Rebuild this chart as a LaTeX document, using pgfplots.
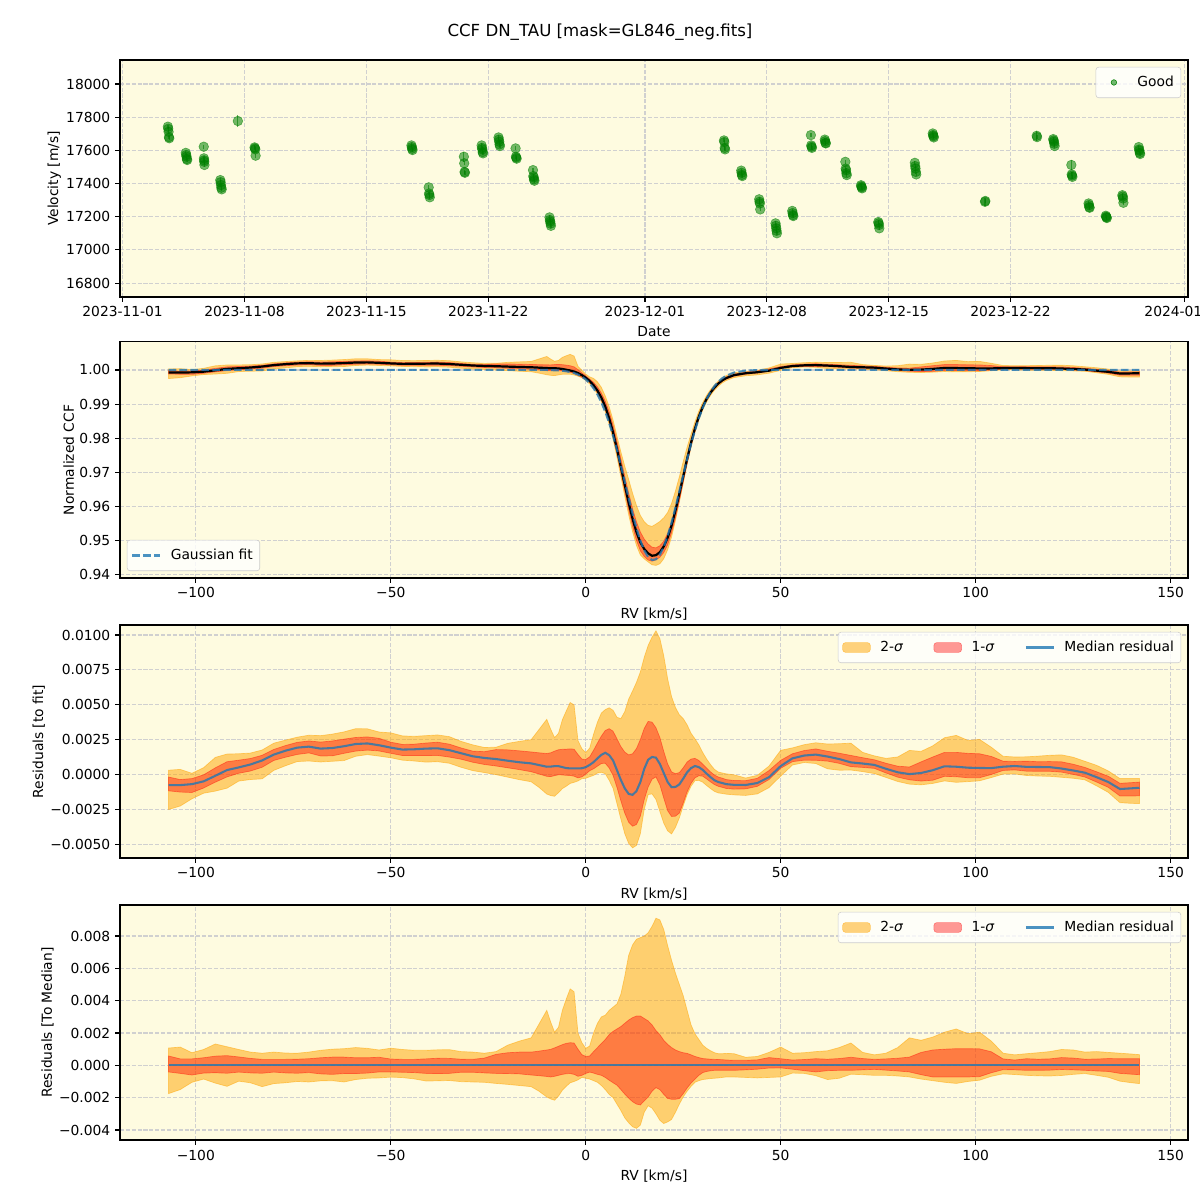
\documentclass[border=0pt]{standalone}
\usepackage{fontspec}
\setmainfont{DejaVu Sans}
\usepackage{pgfplots}
\usepackage{pgfplotstable}
\pgfplotsset{compat=1.18}

\definecolor{bgy}{HTML}{FEFBE0}
\definecolor{mgreen}{HTML}{008000}
\definecolor{morange}{HTML}{FFA500}
\definecolor{mblue}{HTML}{1F77B4}
\definecolor{gridc}{HTML}{D0D0D0}
\definecolor{legc}{HTML}{CCCCCC}

\pgfplotsset{
  panel/.style={
    scale only axis, width=10.68in, anchor=south west,
    axis background/.style={fill=bgy},
    grid=major,
    major grid style={draw=gridc, line width=0.8pt, dash pattern=on 2.96pt off 1.28pt},
    axis line style={line width=0.8pt},
    every tick/.style={black, line width=0.8pt},
    tick align=outside, major tick length=3.5pt,
    xtick pos=left, ytick pos=left,
    tick label style={font=\fontsize{10}{12}\selectfont},
    label style={font=\fontsize{10}{12}\selectfont},
    ylabel style={yshift=-3pt},
    scaled ticks=false,
    legend style={font=\fontsize{10}{12}\selectfont, draw=legc, fill=white,
      fill opacity=0.8, text opacity=1, rounded corners=2pt,
      inner xsep=3pt, inner ysep=4.5pt,
      /tikz/every odd column/.append style={column sep=5pt}},
    legend cell align=left,
  },
  rvpanel/.style={panel, xmin=-119.45, xmax=154.45,
    xtick={-100,-50,0,50,100,150},
    xticklabels={−100,−50,0,50,100,150},
    xlabel={RV [km/s]}},
  sqleg/.style={legend image code/.code={\draw[##1] (0pt,-3.5pt) rectangle (20pt,3.5pt);}},
  lnleg/.style={legend image code/.code={\draw[##1] (0pt,0pt) -- (20pt,0pt);}},
  dotleg/.style={legend image code/.code={\path[draw=none, fill=none] (0pt,-3.5pt) rectangle (20pt,3.5pt);
    \fill[mgreen, fill opacity=0.55] (10pt,0pt) circle (2pt);}},
  toprightleg/.style={legend columns=3,
    legend style={at={(1,1)}, anchor=north east, xshift=-5pt, yshift=-5pt,
      /tikz/every even column/.append style={column sep=20pt}}},
  band2/.style={stack plots=y, forget plot, fill=morange, fill opacity=0.5,
    draw=morange, draw opacity=0.5, line width=0.5pt},
  band1/.style={stack plots=y, forget plot, fill=red, fill opacity=0.4,
    draw=red, draw opacity=0.4, line width=0.5pt},
  hidden/.style={stack plots=y, forget plot, draw=none},
}

% velocities: days since 2023-11-01, m/s, error
\pgfplotstableread{
d v e
2.60 17743 12
2.62 17730 12
2.64 17712 12
2.66 17680 12
2.68 17673 12
3.63 17585 12
3.65 17572 12
3.67 17562 12
3.69 17548 12
3.71 17542 12
4.66 17622 12
4.67 17552 12
4.68 17540 12
4.69 17531 12
4.70 17512 12
5.61 17421 12
5.63 17408 12
5.65 17391 12
5.67 17375 12
5.69 17365 12
6.62 17777 35
7.58 17618 12
7.60 17612 12
7.62 17606 12
7.64 17568 12
16.59 17630 12
16.61 17620 12
16.63 17610 12
16.65 17602 12
17.58 17377 12
17.60 17340 12
17.62 17331 12
17.64 17317 12
19.60 17562 30
19.62 17522 12
19.64 17470 12
19.66 17465 12
20.62 17630 12
20.64 17615 12
20.66 17606 12
20.68 17590 12
20.70 17582 12
21.59 17678 12
21.61 17665 12
21.63 17652 12
21.65 17636 12
21.67 17626 12
22.57 17612 12
22.59 17562 12
22.61 17556 12
22.63 17550 12
23.57 17481 12
23.59 17445 12
23.61 17437 12
23.63 17425 12
23.65 17417 12
24.52 17196 12
24.54 17180 12
24.56 17170 12
24.58 17158 12
24.60 17145 12
34.54 17660 12
34.56 17650 12
34.58 17615 12
34.60 17606 12
35.53 17478 12
35.55 17465 12
35.57 17452 12
35.59 17445 12
36.56 17305 12
36.58 17290 12
36.60 17280 12
36.62 17244 12
37.50 17160 12
37.52 17145 12
37.54 17130 12
37.56 17115 12
37.58 17100 12
38.46 17235 12
38.48 17222 12
38.50 17210 12
38.52 17204 12
39.53 17692 12
39.55 17630 12
39.57 17622 12
39.59 17615 12
40.33 17665 12
40.35 17655 12
40.37 17645 12
40.39 17642 12
41.51 17531 12
41.53 17490 12
41.55 17480 12
41.57 17462 12
41.59 17451 12
42.41 17390 12
42.43 17383 12
42.45 17377 12
42.47 17371 12
43.40 17168 12
43.42 17160 12
43.44 17150 12
43.46 17130 12
45.50 17525 12
45.52 17505 12
45.54 17491 12
45.56 17470 12
45.58 17455 12
46.53 17702 12
46.55 17692 12
46.57 17685 12
46.59 17678 12
49.53 17290 25
49.55 17295 12
52.50 17688 30
52.52 17680 12
53.45 17668 12
53.47 17660 12
53.49 17652 12
53.51 17640 12
53.53 17626 12
54.49 17512 30
54.51 17455 12
54.53 17448 20
54.55 17440 12
55.48 17280 12
55.50 17270 12
55.52 17258 12
55.54 17254 12
56.47 17206 12
56.49 17200 12
56.51 17196 12
56.53 17192 12
57.42 17330 12
57.44 17322 12
57.46 17310 12
57.48 17284 12
58.36 17620 12
58.38 17605 12
58.40 17598 12
58.42 17585 12
58.44 17578 12
}\rvtab

% CCF: rv, gaussian fit, median residual to fit (1e-3),
% 2/1-sigma percentiles relative to the median (1e-3)
\pgfplotstableread{
rv fit med lo2 lo1 hi1 hi2
-107 1.00000 -0.77 -1.75 -0.41 0.58 1.07
-104 1.00000 -0.77 -1.50 -0.50 0.40 1.13
-101 1.00000 -0.70 -1.05 -0.60 0.40 0.78
-98 1.00000 -0.50 -0.85 -0.48 0.47 0.98
-95 1.00000 -0.10 -1.10 -0.46 0.57 1.32
-92 1.00000 0.31 -1.30 -0.49 0.60 1.15
-89 1.00000 0.50 -0.98 -0.42 0.52 0.98
-86 1.00000 0.71 -1.08 -0.47 0.43 0.82
-83 1.00000 1.00 -1.32 -0.49 0.37 0.75
-80 1.00000 1.42 -1.13 -0.42 0.37 0.82
-77 1.00000 1.70 -1.08 -0.47 0.37 0.76
-74 1.00000 1.92 -1.00 -0.49 0.38 0.75
-71 1.00000 1.99 -1.03 -0.45 0.41 0.82
-68 1.00000 1.85 -0.96 -0.53 0.47 0.93
-65 1.00000 1.89 -0.95 -0.56 0.51 1.00
-62 1.00000 2.02 -1.03 -0.51 0.51 1.03
-59 1.00000 2.18 -0.88 -0.51 0.47 1.10
-56 1.00000 2.22 -0.80 -0.48 0.47 1.05
-53 1.00000 2.09 -0.78 -0.41 0.50 0.95
-50 1.00000 1.92 -0.73 -0.41 0.39 1.06
-47 1.00000 1.78 -0.76 -0.43 0.37 0.98
-44 1.00000 1.80 -0.84 -0.45 0.37 0.93
-41 1.00000 1.85 -0.97 -0.50 0.40 0.93
-38 1.00000 1.87 -0.96 -0.51 0.44 0.96
-35 1.00000 1.74 -0.94 -0.50 0.43 0.97
-32 1.00000 1.52 -1.01 -0.43 0.38 0.85
-29 1.00000 1.30 -1.03 -0.43 0.37 0.82
-26 1.00000 1.18 -1.05 -0.47 0.45 0.75
-23 1.00000 1.10 -1.12 -0.50 0.68 0.85
-20 1.00000 0.98 -1.18 -0.51 0.78 1.25
-17 1.00000 0.87 -1.25 -0.53 0.82 1.50
-14 1.00000 0.79 -1.32 -0.60 0.82 1.70
-12 1.00000 0.67 -1.60 -0.64 0.88 2.55
-10 1.00000 0.55 -1.96 -0.69 0.95 3.40
-9 0.99994 0.56 -2.08 -0.72 0.99 2.68
-8 0.99991 0.59 -2.16 -0.68 1.08 2.05
-7 0.99985 0.59 -1.90 -0.62 1.18 2.35
-6 0.99976 0.52 -1.54 -0.56 1.28 3.40
-5 0.99961 0.45 -1.30 -0.52 1.36 4.10
-4 0.99941 0.43 -1.08 -0.51 1.40 4.73
-3 0.99910 0.43 -1.00 -0.56 1.38 4.55
-2 0.99866 0.43 -0.90 -0.68 1.00 2.00
-1 0.99804 0.44 -0.75 -0.62 0.66 1.40
0 0.99721 0.52 -0.80 -0.50 0.55 1.05
1 0.99609 0.68 -0.85 -0.42 0.58 1.20
2 0.99464 0.88 -0.95 -0.48 0.85 2.00
3 0.99279 1.15 -1.05 -0.56 1.10 2.60
4 0.99050 1.40 -1.25 -0.62 1.35 3.00
5 0.98773 1.55 -1.50 -0.75 1.60 3.10
6 0.98447 1.38 -1.80 -0.92 1.90 3.40
7 0.98072 1.00 -2.00 -1.08 2.10 3.60
8 0.97654 0.30 -2.40 -1.23 2.25 3.80
9 0.97203 -0.40 -2.80 -1.50 2.40 4.40
10 0.96731 -1.00 -3.25 -1.78 2.60 5.50
11 0.96255 -1.40 -3.55 -2.03 2.80 6.80
12 0.95794 -1.47 -3.80 -2.25 2.95 7.45
13 0.95371 -1.20 -3.90 -2.40 3.05 7.80
14 0.95005 -0.55 -3.70 -2.45 3.05 7.90
15 0.94717 0.40 -2.90 -2.20 2.90 8.00
16 0.94524 1.05 -2.50 -1.96 2.75 8.20
17 0.94435 1.25 -2.65 -1.60 2.50 8.60
18 0.94457 1.20 -3.00 -1.38 2.15 9.10
19 0.94589 0.75 -3.40 -1.50 1.90 9.00
20 0.94822 0.10 -3.60 -1.80 1.55 8.40
21 0.95142 -0.55 -3.50 -2.05 1.30 7.40
22 0.95534 -0.92 -3.35 -2.10 1.10 6.50
23 0.95975 -0.90 -2.90 -2.10 0.95 5.70
24 0.96445 -0.72 -2.40 -2.06 0.85 5.00
25 0.96921 -0.30 -1.95 -1.75 0.78 4.30
26 0.97387 0.15 -1.60 -1.40 0.74 3.40
27 0.97826 0.45 -1.30 -1.10 0.65 2.50
28 0.98227 0.60 -1.05 -0.85 0.55 1.95
29 0.98583 0.52 -0.95 -0.62 0.48 1.60
30 0.98890 0.32 -0.88 -0.45 0.42 1.25
31 0.99148 0.05 -0.85 -0.38 0.40 1.05
32 0.99358 -0.20 -0.82 -0.34 0.38 0.90
33 0.99527 -0.42 -0.80 -0.31 0.37 0.78
34 0.99658 -0.55 -0.78 -0.31 0.36 0.72
35 0.99757 -0.62 -0.75 -0.31 0.35 0.72
36 0.99831 -0.70 -0.72 -0.31 0.33 0.74
38 0.99923 -0.75 -0.72 -0.31 0.31 0.72
41 0.99980 -0.76 -0.75 -0.28 0.31 0.50
44 0.99996 -0.62 -0.78 -0.24 0.34 0.55
47 1.00000 -0.20 -0.75 -0.17 0.48 0.80
50 1.00000 0.60 -0.72 -0.16 0.41 1.13
53 1.00000 1.15 -0.48 -0.24 0.33 0.75
56 1.00000 1.35 -0.50 -0.33 0.36 0.78
59 1.00000 1.42 -0.64 -0.41 0.41 0.85
62 1.00000 1.28 -0.88 -0.33 0.38 0.90
65 1.00000 1.10 -0.80 -0.31 0.42 1.10
68 1.00000 0.86 -0.55 -0.31 0.50 1.38
71 1.00000 0.78 -0.58 -0.28 0.42 0.80
74 1.00000 0.68 -0.62 -0.25 0.37 0.65
77 1.00000 0.40 -0.62 -0.30 0.40 0.75
80 1.00000 0.15 -0.66 -0.35 0.44 1.10
83 1.00000 0.02 -0.72 -0.41 0.51 1.70
86 1.00000 0.10 -0.85 -0.58 0.80 1.55
89 1.00000 0.30 -0.95 -0.72 0.95 1.75
92 1.00000 0.58 -1.05 -0.72 1.00 2.05
95 1.00000 0.55 -1.12 -0.72 1.03 2.25
98 1.00000 0.48 -1.00 -0.72 1.03 1.96
101 1.00000 0.46 -0.92 -0.70 1.02 2.05
104 1.00000 0.45 -0.68 -0.46 0.84 1.50
107 1.00000 0.55 -0.53 -0.27 0.40 0.75
110 1.00000 0.60 -0.57 -0.28 0.33 0.65
113 1.00000 0.54 -0.62 -0.31 0.41 0.72
116 1.00000 0.53 -0.65 -0.31 0.38 0.78
119 1.00000 0.52 -0.66 -0.30 0.40 0.85
122 1.00000 0.42 -0.63 -0.26 0.48 0.98
125 1.00000 0.28 -0.56 -0.28 0.45 0.95
128 1.00000 0.12 -0.51 -0.31 0.38 0.82
131 1.00000 -0.20 -0.62 -0.35 0.39 0.85
134 1.00000 -0.55 -0.74 -0.38 0.42 0.80
137 1.00000 -1.05 -0.98 -0.50 0.41 0.75
140 1.00000 -1.00 -1.08 -0.55 0.41 0.70
142 1.00000 -0.96 -1.13 -0.58 0.41 0.66
}\ccftab

\begin{document}
\begin{tikzpicture}
\path[use as bounding box] (0,0) rectangle (12in,12in);
\node at (6in,11.68in) {\fontsize{12}{14}\selectfont CCF DN\_TAU [mask=GL846\_neg.fits]};

% --- velocities
\begin{axis}[panel, at={(1.2in,9.03in)}, height=2.37in,
  xmin=-0.15, xmax=61.19, ymin=16716, ymax=18145,
  xtick={0,7,14,21,30,37,44,51,61},
  xticklabels={2023-11-01,2023-11-08,2023-11-15,2023-11-22,2023-12-01,2023-12-08,2023-12-15,2023-12-22,2024-01-01},
  ytick={16800,17000,17200,17400,17600,17800,18000},
  yticklabels={16800,17000,17200,17400,17600,17800,18000},
  xlabel={Date}, ylabel={Velocity [m/s]},
  legend style={at={(1,1)}, anchor=north east, xshift=-5pt, yshift=-5pt}]
\addlegendimage{dotleg}
\addlegendentry{Good}
\addplot[forget plot, only marks, mark=*, mark size=3.5pt,
  mark options={fill=mgreen, draw=mgreen, opacity=0.55},
  error bars/.cd, y dir=both, y explicit, error mark=none,
  error bar style={mgreen, opacity=0.6, line width=0.9pt}]
  table[x=d, y=v, y error=e] {\rvtab};
\end{axis}

% --- normalized CCF
\begin{axis}[rvpanel, at={(1.2in,6.22in)}, height=2.36in,
  ymin=0.9391, ymax=1.0082,
  ytick={0.94,0.95,0.96,0.97,0.98,0.99,1.00},
  yticklabels={0.94,0.95,0.96,0.97,0.98,0.99,1.00},
  ylabel={Normalized CCF},
  legend style={at={(0,0)}, anchor=south west, xshift=5pt, yshift=5pt}]
\addlegendimage{lnleg, mblue, opacity=0.8, line width=1.5pt, dash pattern=on 5.5pt off 2.4pt}
\addlegendentry{Gaussian fit}
\addplot[hidden] table[x=rv, y expr=\thisrow{fit}+(\thisrow{med}+\thisrow{lo2})/1000] {\ccftab};
\addplot[band2] table[x=rv, y expr=(\thisrow{hi2}-\thisrow{lo2})/1000] {\ccftab} \closedcycle;
\addplot[hidden] table[x=rv, y expr=-\thisrow{fit}-(\thisrow{med}+\thisrow{hi2})/1000] {\ccftab};
\addplot[hidden] table[x=rv, y expr=\thisrow{fit}+(\thisrow{med}+\thisrow{lo1})/1000] {\ccftab};
\addplot[band1] table[x=rv, y expr=(\thisrow{hi1}-\thisrow{lo1})/1000] {\ccftab} \closedcycle;
\addplot[forget plot, black, line width=1.6pt] table[x=rv, y expr=\thisrow{fit}+\thisrow{med}/1000] {\ccftab};
\addplot[forget plot, mblue, opacity=0.8, line width=1.5pt, dash pattern=on 5.5pt off 2.4pt] table[x=rv, y=fit] {\ccftab};
\end{axis}

% --- residuals to fit (units of 1e-3)
\begin{axis}[rvpanel, toprightleg, at={(1.2in,3.42in)}, height=2.33in,
  ymin=-6.0, ymax=10.72,
  ytick={-5,-2.5,0,2.5,5,7.5,10},
  yticklabels={−0.0050,−0.0025,0.0000,0.0025,0.0050,0.0075,0.0100},
  ylabel={Residuals [to fit]}]
\addlegendimage{sqleg, fill=morange, fill opacity=0.5, draw=morange, draw opacity=0.5}
\addlegendentry{2-\textit{σ}}
\addlegendimage{sqleg, fill=red, fill opacity=0.4, draw=red, draw opacity=0.4}
\addlegendentry{1-\textit{σ}}
\addlegendimage{lnleg, mblue, opacity=0.8, line width=1.5pt}
\addlegendentry{Median residual}
\addplot[hidden] table[x=rv, y expr=\thisrow{med}+\thisrow{lo2}] {\ccftab};
\addplot[band2] table[x=rv, y expr=\thisrow{hi2}-\thisrow{lo2}] {\ccftab} \closedcycle;
\addplot[hidden] table[x=rv, y expr=-\thisrow{med}-\thisrow{hi2}] {\ccftab};
\addplot[hidden] table[x=rv, y expr=\thisrow{med}+\thisrow{lo1}] {\ccftab};
\addplot[band1] table[x=rv, y expr=\thisrow{hi1}-\thisrow{lo1}] {\ccftab} \closedcycle;
\addplot[forget plot, mblue, opacity=0.8, line width=1.5pt] table[x=rv, y=med] {\ccftab};
\end{axis}

% --- residuals to median (units of 1e-3)
\begin{axis}[rvpanel, toprightleg, at={(1.2in,0.60in)}, height=2.35in,
  ymin=-4.62, ymax=9.92,
  ytick={-4,-2,0,2,4,6,8},
  yticklabels={−0.004,−0.002,0.000,0.002,0.004,0.006,0.008},
  ylabel={Residuals [To Median]}]
\addlegendimage{sqleg, fill=morange, fill opacity=0.5, draw=morange, draw opacity=0.5}
\addlegendentry{2-\textit{σ}}
\addlegendimage{sqleg, fill=red, fill opacity=0.4, draw=red, draw opacity=0.4}
\addlegendentry{1-\textit{σ}}
\addlegendimage{lnleg, mblue, opacity=0.8, line width=1.5pt}
\addlegendentry{Median residual}
\addplot[hidden] table[x=rv, y=lo2] {\ccftab};
\addplot[band2] table[x=rv, y expr=\thisrow{hi2}-\thisrow{lo2}] {\ccftab} \closedcycle;
\addplot[hidden] table[x=rv, y expr=-\thisrow{hi2}] {\ccftab};
\addplot[hidden] table[x=rv, y=lo1] {\ccftab};
\addplot[band1] table[x=rv, y expr=\thisrow{hi1}-\thisrow{lo1}] {\ccftab} \closedcycle;
\addplot[forget plot, mblue, opacity=0.8, line width=1.5pt] coordinates {(-107,0) (142,0)};
\end{axis}
\end{tikzpicture}
\end{document}
